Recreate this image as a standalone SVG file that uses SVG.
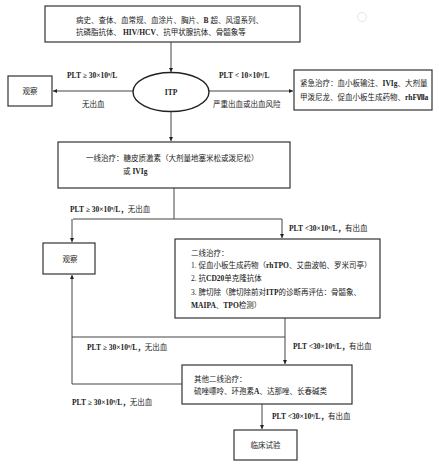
<svg xmlns="http://www.w3.org/2000/svg" width="439" height="467" viewBox="0 0 439 467">
<style>
.box{fill:#fff;stroke:#333;stroke-width:1.2}
.ln{fill:none;stroke:#444;stroke-width:1}
text{font-family:"Liberation Serif","Noto Sans CJK SC",serif;font-size:7.5px;fill:#222}
.c{text-anchor:middle}
.b{font-weight:bold}
</style>
<defs>
<marker id="ah" viewBox="0 0 6 6" refX="6" refY="3" markerWidth="4" markerHeight="4" orient="auto" markerUnits="userSpaceOnUse">
<path d="M0,0 L6,3 L0,6 Z" fill="#222"/>
</marker>
</defs>
<rect width="439" height="467" fill="#fff"/>
<g id="watermark" opacity="0.25">
<circle cx="362" cy="17" r="4.5" fill="none" stroke="#999" stroke-width="1"/>
</g>
<g id="connectors">
<line class="ln" x1="171" y1="42" x2="171" y2="72" marker-end="url(#ah)"/>
<line class="ln" x1="133" y1="91" x2="53" y2="91" marker-end="url(#ah)"/>
<line class="ln" x1="209" y1="91" x2="293" y2="91" marker-end="url(#ah)"/>
<line class="ln" x1="171" y1="111" x2="171" y2="141" marker-end="url(#ah)"/>
<polyline class="ln" points="174,188 174,219"/>
<polyline class="ln" points="73,219 282,219"/>
<line class="ln" x1="72" y1="219" x2="72" y2="242" marker-end="url(#ah)"/>
<line class="ln" x1="282" y1="219" x2="282" y2="238" marker-end="url(#ah)"/>
<polyline class="ln" points="285,318 285,337 72,337"/>
<line class="ln" x1="285" y1="337" x2="285" y2="364" marker-end="url(#ah)"/>
<polyline class="ln" points="182,384 72,384 72,275" marker-end="url(#ah)"/>
<line class="ln" x1="262" y1="404" x2="262" y2="429" marker-end="url(#ah)"/>
</g>
<g id="labels">
<text x="67" y="78" class="b">PLT ≥ 30×10⁹/L</text>
<text x="82" y="107">无出血</text>
<text x="219" y="78" class="b">PLT &lt; 10×10⁹/L</text>
<text x="213" y="107">严重出血或出血风险</text>
<text x="70" y="212" class="b">PLT ≥ 30×10⁹/L，<tspan font-weight="normal">无出血</tspan></text>
<text x="289" y="231" class="b">PLT &lt;30×10⁹/L，<tspan font-weight="normal">有出血</tspan></text>
<text x="87" y="350" class="b">PLT ≥ 30×10⁹/L，<tspan font-weight="normal">无出血</tspan></text>
<text x="293" y="349" class="b">PLT &lt;30×10⁹/L，<tspan font-weight="normal">有出血</tspan></text>
<text x="72" y="405" class="b">PLT ≥ 30×10⁹/L，<tspan font-weight="normal">无出血</tspan></text>
<text x="272" y="419" class="b">PLT &lt;30×10⁹/L，<tspan font-weight="normal">有出血</tspan></text>
</g>
<g id="n_workup">
<rect class="box" x="45" y="6" width="255" height="36"/>
<text x="76" y="23">病史、查体、血常规、血涂片、胸片、<tspan class="b">B</tspan> 超、风湿系列、</text>
<text x="76" y="35">抗磷脂抗体、 <tspan class="b">HIV/HCV</tspan>、抗甲状腺抗体、骨髓象等</text>
</g>
<g id="n_itp">
<ellipse cx="171" cy="92" rx="38" ry="19.5" fill="#fff" stroke="#222" stroke-width="1.4"/>
<text x="171" y="95" class="c b">ITP</text>
</g>
<g id="n_observe1">
<rect class="box" x="8" y="76" width="44" height="30"/>
<text x="30" y="94" class="c">观察</text>
</g>
<g id="n_emergency">
<rect class="box" x="294" y="70" width="138" height="40"/>
<text x="300" y="86">紧急治疗：血小板输注、<tspan class="b">IVIg</tspan>、大剂量</text>
<text x="300" y="100">甲泼尼龙、促血小板生成药物、<tspan class="b">rhFⅦa</tspan></text>
</g>
<g id="n_firstline">
<rect class="box" x="58" y="142" width="232" height="46"/>
<text x="86" y="161">一线治疗：糖皮质激素（大剂量地塞米松或泼尼松）</text>
<text x="123" y="174">或 <tspan class="b">IVIg</tspan></text>
</g>
<g id="n_observe2">
<rect class="box" x="43" y="243" width="52" height="31"/>
<text x="70" y="261.5" class="c">观察</text>
</g>
<g id="n_secondline">
<rect class="box" x="175" y="239" width="205" height="79"/>
<text x="191" y="256">二线治疗：</text>
<text x="191" y="268">1. 促血小板生成药物（<tspan class="b">rhTPO</tspan>、艾曲波帕、罗米司亭）</text>
<text x="191" y="281">2. 抗<tspan class="b">CD20</tspan>单克隆抗体</text>
<text x="191" y="295">3. 脾切除（脾切除前对<tspan class="b">ITP</tspan>的诊断再评估：骨髓象、</text>
<text x="191" y="308"><tspan class="b">MAIPA</tspan>、<tspan class="b">TPO</tspan>检测）</text>
</g>
<g id="n_othersecond">
<rect class="box" x="182" y="365" width="170" height="39"/>
<text x="194" y="382">其他二线治疗：</text>
<text x="194" y="394">硫唑嘌呤、环孢素<tspan class="b">A</tspan>、达那唑、长春碱类</text>
</g>
<g id="n_trial">
<rect class="box" x="234" y="430" width="63" height="30"/>
<text x="265.5" y="448" class="c">临床试验</text>
</g>
</svg>
